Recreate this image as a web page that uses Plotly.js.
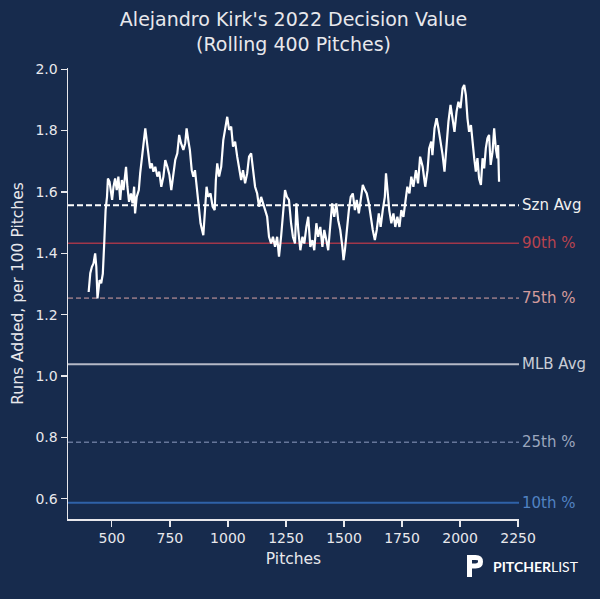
<!DOCTYPE html>
<html>
<head>
<meta charset="utf-8">
<script src="https://cdn.plot.ly/plotly-3.0.1.min.js"></script>
<style>
  html, body { margin: 0; padding: 0; background: #172b4d; }
  #chart { width: 600px; height: 599px; }
</style>
</head>
<body>
<div id="chart"></div>
<script>
// rolling decision value
const pitches = [
  400, 407, 414, 421, 428, 433, 438, 447, 454, 461, 467, 473, 479, 483, 490, 496, 501, 507, 514, 521,
  528, 536, 543, 550, 561, 567, 574, 582, 589, 596, 600, 607, 616, 622, 629, 636, 644, 650, 657, 665,
  672, 679, 687, 696, 704, 713, 722, 730, 739, 748, 756, 765, 773, 782, 790, 798, 808, 816, 822, 829,
  836, 844, 851, 858, 865, 872, 882, 894, 908, 915, 925, 934, 943, 948, 954, 962, 971, 980, 988, 997,
  1005, 1014, 1022, 1031, 1040, 1048, 1057, 1065, 1074, 1083, 1091, 1100, 1108, 1117, 1126, 1134, 1143, 1151, 1160, 1169,
  1177, 1186, 1194, 1203, 1212, 1220, 1229, 1237, 1246, 1254, 1263, 1272, 1280, 1289, 1295, 1303, 1312, 1321, 1329, 1338,
  1346, 1355, 1364, 1372, 1381, 1389, 1398, 1407, 1415, 1424, 1432, 1438, 1449, 1458, 1467, 1475, 1484, 1493, 1498, 1504,
  1512, 1521, 1529, 1538, 1547, 1555, 1564, 1572, 1581, 1590, 1598, 1607, 1615, 1624, 1633, 1641, 1650, 1658, 1667, 1676,
  1681, 1687, 1695, 1704, 1713, 1721, 1730, 1739, 1747, 1756, 1764, 1773, 1782, 1790, 1799, 1810, 1819, 1828, 1839, 1850,
  1860, 1867, 1876, 1881, 1890, 1899, 1907, 1916, 1925, 1933, 1942, 1950, 1959, 1968, 1976, 1985, 1993, 2002, 2011, 2018,
  2025, 2032, 2039, 2047, 2054, 2061, 2068, 2075, 2082, 2090, 2097, 2104, 2111, 2118, 2125, 2132, 2140, 2147, 2154, 2161,
  2164, 2168
];
const runsAdded = [
  1.274, 1.335, 1.356, 1.367, 1.400, 1.356, 1.253, 1.313, 1.302, 1.334, 1.432, 1.541, 1.584, 1.644, 1.633, 1.606, 1.574, 1.617, 1.644, 1.606,
  1.650, 1.574, 1.639, 1.606, 1.682, 1.617, 1.568, 1.595, 1.563, 1.617, 1.530, 1.584, 1.606, 1.661, 1.704, 1.764, 1.807, 1.769, 1.715, 1.677,
  1.693, 1.666, 1.682, 1.650, 1.666, 1.617, 1.650, 1.704, 1.682, 1.655, 1.606, 1.661, 1.704, 1.726, 1.786, 1.759, 1.737, 1.759, 1.807, 1.769,
  1.737, 1.671, 1.650, 1.671, 1.617, 1.563, 1.498, 1.459, 1.617, 1.584, 1.595, 1.552, 1.541, 1.639, 1.693, 1.650, 1.682, 1.769, 1.813, 1.845,
  1.802, 1.813, 1.748, 1.764, 1.715, 1.682, 1.639, 1.671, 1.628, 1.661, 1.715, 1.726, 1.677, 1.617, 1.595, 1.552, 1.584, 1.563, 1.541, 1.519,
  1.454, 1.432, 1.454, 1.421, 1.454, 1.389, 1.454, 1.541, 1.606, 1.584, 1.574, 1.498, 1.454, 1.432, 1.563, 1.476, 1.410, 1.454, 1.432, 1.486,
  1.519, 1.421, 1.443, 1.410, 1.498, 1.454, 1.486, 1.421, 1.476, 1.443, 1.410, 1.465, 1.563, 1.519, 1.563, 1.508, 1.476, 1.421, 1.378, 1.410,
  1.486, 1.541, 1.584, 1.595, 1.541, 1.574, 1.530, 1.574, 1.623, 1.606, 1.595, 1.563, 1.519, 1.476, 1.443, 1.476, 1.530, 1.486, 1.541, 1.584,
  1.661, 1.606, 1.541, 1.498, 1.530, 1.486, 1.519, 1.486, 1.541, 1.519, 1.574, 1.617, 1.595, 1.650, 1.617, 1.671, 1.628, 1.715, 1.682, 1.617,
  1.671, 1.742, 1.764, 1.720, 1.807, 1.840, 1.807, 1.764, 1.720, 1.666, 1.764, 1.829, 1.884, 1.840, 1.796, 1.862, 1.894, 1.873, 1.938, 1.949,
  1.916, 1.840, 1.796, 1.818, 1.753, 1.710, 1.666, 1.710, 1.644, 1.623, 1.710, 1.677, 1.742, 1.775, 1.786, 1.688, 1.731, 1.807, 1.742, 1.710,
  1.753, 1.633
];

// reference lines
const refNames  = ['Szn Avg', '90th %', '75th %', 'MLB Avg', '25th %', '10th %'];
const refValues = [1.557, 1.433, 1.254, 1.038, 0.784, 0.587];

const xTicks = [500, 750, 1000, 1250, 1500, 1750, 2000, 2250];
const yTicks = [0.6, 0.8, 1.0, 1.2, 1.4, 1.6, 1.8, 2.0];

const bg = '#172b4d';
const fg = '#e8e8ec';
const font = 'DejaVu Sans, sans-serif';

const refStyle = [
  { line: '#ffffff', text: '#f0f0f0', width: 2,   dash: '6px,3px' },
  { line: '#a1374a', text: '#b8434f', width: 1.6, dash: 'solid' },
  { line: '#86707f', text: '#d39b9c', width: 1.6, dash: '5px,3px' },
  { line: '#b4b9c6', text: '#c9cdd6', width: 2,   dash: 'solid' },
  { line: '#66769a', text: '#9ba6bd', width: 1.6, dash: '5px,3px' },
  { line: '#2f62a8', text: '#5182c2', width: 2,   dash: 'solid' }
];

const M = { l: 68, r: 81, t: 68, b: 80 };
const W = 600, H = 599;
const plotW = W - M.l - M.r, plotH = H - M.t - M.b;
const px = x => (x - M.l) / plotW;
const py = y => (H - M.b - y) / plotH;

const shapes = refValues.map((v, i) => ({
  type: 'line', xref: 'paper', yref: 'y',
  x0: 0, x1: 1, y0: v, y1: v,
  line: { color: refStyle[i].line, width: refStyle[i].width, dash: refStyle[i].dash },
  layer: 'below'
}));

// logo mark
const logoPath = 'M ' + px(469.5) + ' ' + py(577) +
  ' L ' + px(469.5) + ' ' + py(557.5) +
  ' L ' + px(475.5) + ' ' + py(557.5) +
  ' C ' + px(480) + ' ' + py(557.5) + ' ' + px(480.5) + ' ' + py(559) + ' ' + px(480.5) + ' ' + py(561.8) +
  ' C ' + px(480.5) + ' ' + py(564.5) + ' ' + px(479) + ' ' + py(566) + ' ' + px(475.5) + ' ' + py(566) +
  ' L ' + px(472) + ' ' + py(566);
shapes.push({
  type: 'path', xref: 'paper', yref: 'paper', path: logoPath,
  line: { color: '#ffffff', width: 5 }
});

const annotations = refValues.map((v, i) => ({
  xref: 'paper', yref: 'y', x: 1.003, y: v,
  xanchor: 'left', yanchor: 'middle', showarrow: false,
  text: refNames[i],
  font: { family: font, size: 15, color: refStyle[i].text }
}));
annotations.push({
  xref: 'paper', yref: 'paper', x: px(490.5), y: py(566),
  xanchor: 'left', yanchor: 'middle', showarrow: false,
  text: '<b>PITCHER</b>LIST',
  font: { family: 'Lato, sans-serif', size: 14, color: '#ffffff' }
});

const trace = {
  x: pitches, y: runsAdded,
  type: 'scatter', mode: 'lines',
  line: { color: '#ffffff', width: 2.2 },
  hoverinfo: 'x+y', showlegend: false
};

const axisBase = {
  showgrid: false, zeroline: false,
  showline: true, linecolor: fg, linewidth: 1.5,
  ticks: 'outside', ticklen: 6, tickwidth: 1.2, tickcolor: fg,
  tickfont: { family: font, size: 14, color: fg },
  tickmode: 'array'
};

const layout = {
  width: W, height: H,
  paper_bgcolor: bg, plot_bgcolor: bg,
  margin: M,
  showlegend: false,
  title: {
    text: "Alejandro Kirk's 2022 Decision Value<br>(Rolling 400 Pitches)",
    font: { family: font, size: 19, color: fg },
    xref: 'paper', x: 0.5, xanchor: 'center',
    yref: 'container', y: 1 - 26 / H, yanchor: 'middle'
  },
  xaxis: Object.assign({}, axisBase, {
    range: [311, 2254],
    tickvals: xTicks,
    title: { text: 'Pitches', font: { family: font, size: 15.5, color: fg }, standoff: 8 }
  }),
  yaxis: Object.assign({}, axisBase, {
    range: [0.534, 2.004],
    tickvals: yTicks,
    tickformat: '.1f',
    title: { text: 'Runs Added, per 100 Pitches', font: { family: font, size: 15.5, color: fg }, standoff: 8 }
  }),
  shapes: shapes,
  annotations: annotations
};

Plotly.newPlot('chart', [trace], layout, { displayModeBar: false, staticPlot: true });
</script>
</body>
</html>
